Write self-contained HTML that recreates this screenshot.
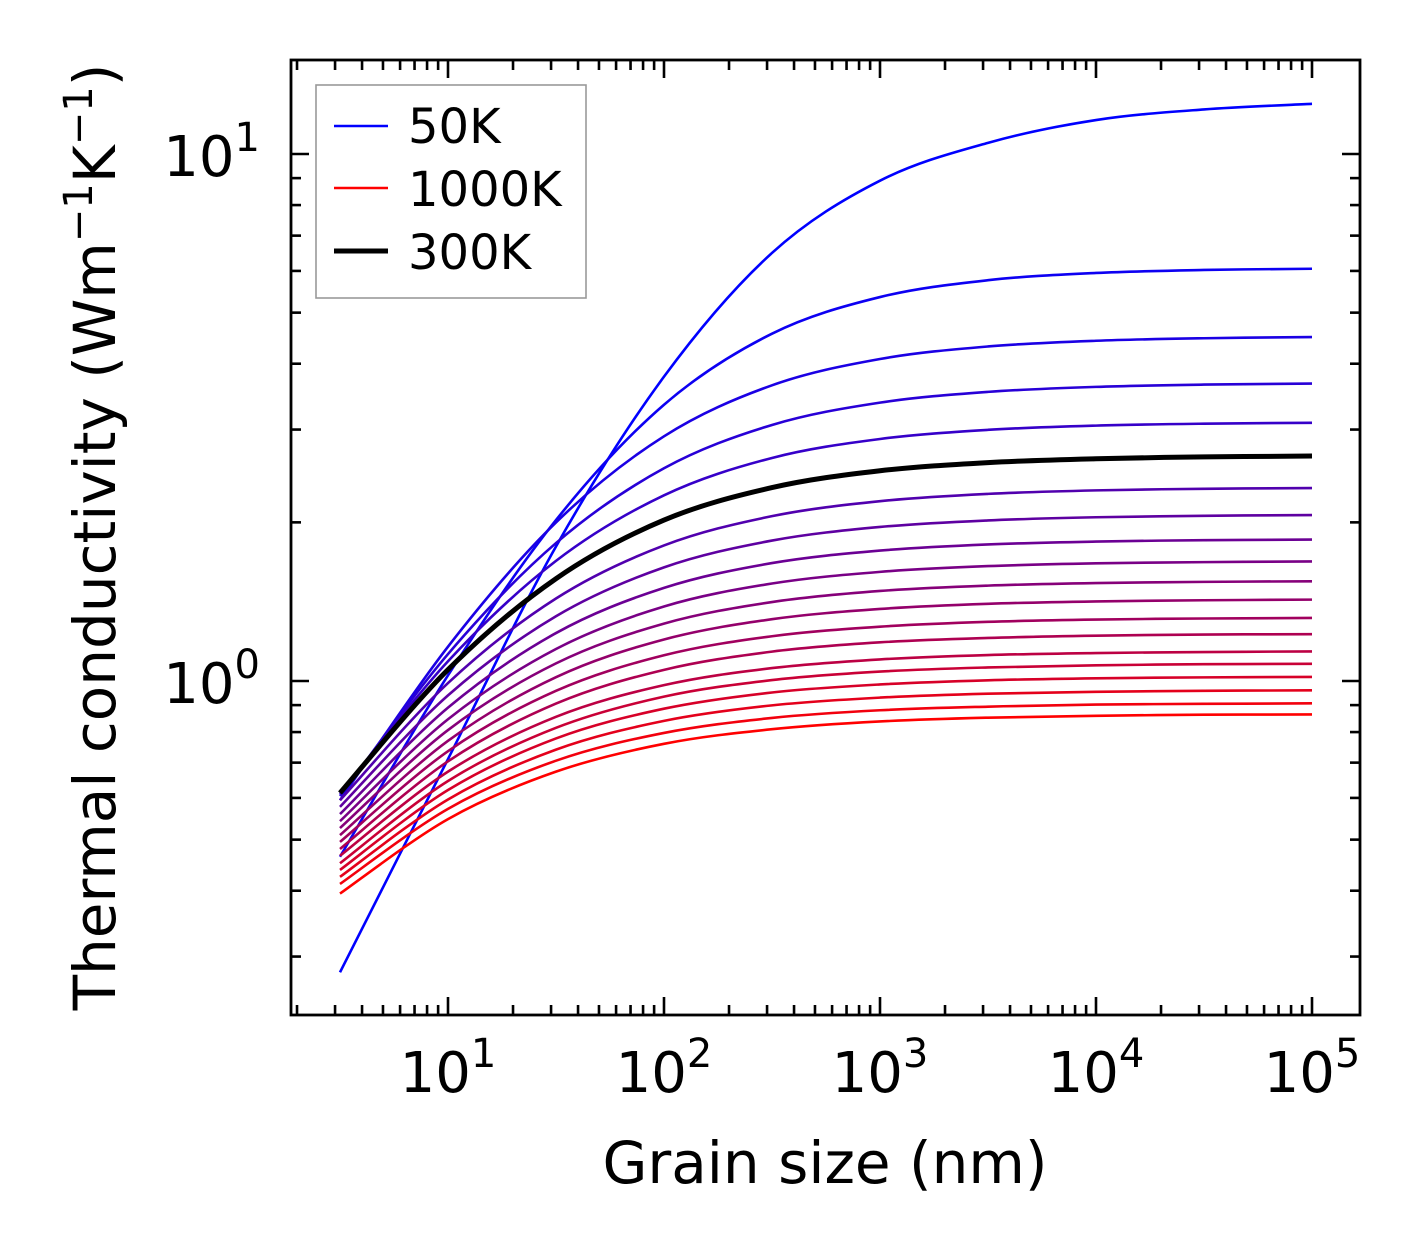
<!DOCTYPE html>
<html><head><meta charset="utf-8"><style>
html,body{margin:0;padding:0;background:#fff;}
svg text{font-family:"DejaVu Sans","Liberation Sans",sans-serif;fill:#000;}
</style></head><body>
<svg id="chart" width="1421" height="1254" viewBox="0 0 1421 1254" xmlns="http://www.w3.org/2000/svg">
<rect x="0" y="0" width="1421" height="1254" fill="#fff"/>
<g id="curves"></g>
<g id="ticks"></g>
<rect x="291" y="60" width="1069" height="955" fill="none" stroke="#000" stroke-width="2.8"/>
<g font-size="56" text-anchor="middle">
<text x="448" y="1092">10<tspan dy="-25" font-size="40">1</tspan></text>
<text x="664" y="1092">10<tspan dy="-25" font-size="40">2</tspan></text>
<text x="880" y="1092">10<tspan dy="-25" font-size="40">3</tspan></text>
<text x="1096" y="1092">10<tspan dy="-25" font-size="40">4</tspan></text>
<text x="1312" y="1092">10<tspan dy="-25" font-size="40">5</tspan></text>
</g>
<g font-size="56" text-anchor="end">
<text x="260" y="176">10<tspan dy="-25" font-size="40">1</tspan></text>
<text x="260" y="703">10<tspan dy="-25" font-size="40">0</tspan></text>
</g>
<text x="825" y="1183" font-size="58" text-anchor="middle">Grain size (nm)</text>
<text transform="translate(115,537) rotate(-90)" font-size="58" text-anchor="middle">Thermal conductivity (Wm<tspan dy="-23" font-size="40">−1</tspan><tspan dy="23">K</tspan><tspan dy="-23" font-size="40">−1</tspan><tspan dy="23">)</tspan></text>
<g>
<rect x="316" y="85" width="270" height="213" fill="#fff" stroke="#999" stroke-width="1.6"/>
<g><line x1="334" y1="126" x2="388" y2="126" stroke="#0000ff" stroke-width="2.6"/><text x="408" y="143" font-size="48">50K</text></g>
<g><line x1="334" y1="188" x2="388" y2="188" stroke="#ff0000" stroke-width="2.6"/><text x="408" y="206" font-size="48">1000K</text></g>
<g><line x1="334" y1="251" x2="388" y2="251" stroke="#000" stroke-width="5"/><text x="408" y="269" font-size="48">300K</text></g>
</g>
</svg>
<script>
// Grain sizes (nm) at half-decade samples
const grainSizes = [3.162, 10, 31.62, 100, 316.2, 1000, 3162, 10000, 31620, 100000];
const temperatures = [50,100,150,200,250,300,350,400,450,500,550,600,650,700,750,800,850,900,950,1000];
const k50 = [0.280,0.711,1.80,3.78,6.49,8.9,10.5,11.6,12.15,12.45];
const k100 = [0.464,1.025,2.020,3.344,4.561,5.352,5.761,5.946,6.025,6.057];
const k150 = [0.594,1.162,1.999,2.913,3.640,4.083,4.313,4.422,4.471,4.493];
const k200 = [0.605,1.125,1.827,2.533,3.061,3.375,3.537,3.615,3.651,3.667];
const k250 = [0.610,1.090,1.690,2.251,2.650,2.879,2.996,3.052,3.078,3.090];
const k300 = [0.613,1.051,1.564,2.020,2.328,2.506,2.597,2.641,2.662,2.672];
const k350 = [0.594,0.991,1.434,1.808,2.055,2.194,2.265,2.300,2.316,2.323];
const k400 = [0.577,0.939,1.327,1.643,1.847,1.960,2.017,2.045,2.058,2.065];
const k450 = [0.559,0.890,1.233,1.502,1.674,1.768,1.816,1.839,1.850,1.855];
const k500 = [0.542,0.846,1.150,1.385,1.531,1.611,1.652,1.672,1.681,1.686];
const k550 = [0.526,0.807,1.080,1.285,1.412,1.482,1.517,1.534,1.542,1.546];
const k600 = [0.510,0.770,1.017,1.199,1.310,1.370,1.401,1.416,1.423,1.427];
const k650 = [0.495,0.736,0.958,1.119,1.216,1.268,1.295,1.308,1.314,1.317];
const k700 = [0.480,0.704,0.906,1.050,1.137,1.184,1.207,1.219,1.225,1.227];
const k750 = [0.466,0.673,0.855,0.982,1.058,1.099,1.120,1.130,1.135,1.138];
const k800 = [0.451,0.646,0.815,0.934,1.004,1.042,1.061,1.071,1.076,1.078];
const k850 = [0.438,0.621,0.778,0.886,0.951,0.985,1.003,1.012,1.016,1.018];
const k900 = [0.425,0.596,0.741,0.840,0.899,0.930,0.946,0.954,0.958,0.960];
const k950 = [0.412,0.572,0.706,0.797,0.851,0.880,0.894,0.902,0.905,0.907];
const k1000 = [0.395,0.547,0.673,0.760,0.810,0.838,0.852,0.859,0.863,0.864];
const series = [k50,k100,k150,k200,k250,k300,k350,k400,k450,k500,k550,k600,k650,k700,k750,k800,k850,k900,k950,k1000];

const NS = "http://www.w3.org/2000/svg";
function xScale(v){ return 448 + 216*(Math.log10(v) - 1); }
function yScale(v){ return 681 - 527*Math.log10(v); }
function pathFor(vals){
  const p = vals.map((v,i)=>[xScale(grainSizes[i]), yScale(v)]);
  let d = "M" + p[0][0].toFixed(2) + "," + p[0][1].toFixed(2);
  for(let i=0;i<p.length-1;i++){
    const p0=p[Math.max(0,i-1)], p1=p[i], p2=p[i+1], p3=p[Math.min(p.length-1,i+2)];
    const c1=[p1[0]+(p2[0]-p0[0])/6, p1[1]+(p2[1]-p0[1])/6];
    const c2=[p2[0]-(p3[0]-p1[0])/6, p2[1]-(p3[1]-p1[1])/6];
    d += " C"+c1[0].toFixed(2)+","+c1[1].toFixed(2)+" "+c2[0].toFixed(2)+","+c2[1].toFixed(2)+" "+p2[0].toFixed(2)+","+p2[1].toFixed(2);
  }
  return d;
}
const cg = document.getElementById("curves");
let blackPath = null;
series.forEach((vals, idx)=>{
  const t = idx/(series.length-1);
  const el = document.createElementNS(NS,"path");
  el.setAttribute("d", pathFor(vals));
  el.setAttribute("fill","none");
  el.setAttribute("stroke-linejoin","round");
  const T = temperatures[idx];
  if (T === 300){
    el.setAttribute("stroke","#000");
    el.setAttribute("stroke-width","5");
    blackPath = el;
  } else {
    el.setAttribute("stroke","rgb("+Math.round(255*t)+",0,"+Math.round(255*(1-t))+")");
    el.setAttribute("stroke-width","2.6");
  }
  
  
  cg.appendChild(el);
});
if (blackPath) cg.appendChild(blackPath);

const tg = document.getElementById("ticks");
function tick(x1,y1,x2,y2,name){
  const l = document.createElementNS(NS,"line");
  l.setAttribute("x1",x1); l.setAttribute("y1",y1); l.setAttribute("x2",x2); l.setAttribute("y2",y2);
  l.setAttribute("stroke","#000"); l.setAttribute("stroke-width","2.6");
  
  
  tg.appendChild(l);
}
for (let d=0; d<=5; d++){
  for (let m=1; m<=9; m++){
    const v = m*Math.pow(10,d);
    const x = xScale(v);
    if (x < 292 || x > 1359) continue;
    const len = m===1 ? 18 : 10;
    tick(x,1015,x,1015-len, m===1?'x-major-tick':'x-minor-tick');
    tick(x,60,x,60+len, m===1?'x-major-tick-top':'x-minor-tick-top');
  }
}
for (let d=-1; d<=1; d++){
  for (let m=1; m<=9; m++){
    const v = m*Math.pow(10,d);
    const y = yScale(v);
    if (y < 61 || y > 1014) continue;
    const len = m===1 ? 18 : 10;
    tick(291,y,291+len,y, m===1?'y-major-tick':'y-minor-tick');
    tick(1360,y,1360-len,y, m===1?'y-major-tick-right':'y-minor-tick-right');
  }
}
</script>
</body></html>
